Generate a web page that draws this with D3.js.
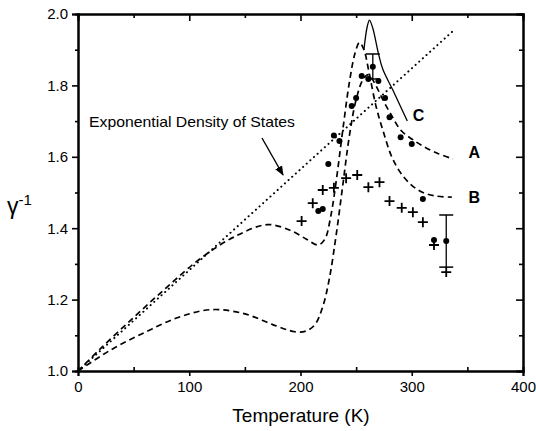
<!DOCTYPE html>
<html>
<head>
<meta charset="utf-8">
<script src="https://cdn.jsdelivr.net/npm/d3@7/dist/d3.min.js"></script>
<style>
  body { margin: 0; background: #fff; }
  text { font-family: "Liberation Sans", Arial, sans-serif; fill: #000; }
</style>
</head>
<body>
<div id="chart"></div>
<script>
// tick values
var xTicks = [0, 100, 200, 300, 400];
var yTicks = [1.0, 1.2, 1.4, 1.6, 1.8, 2.0];

// exponential density of states (straight dotted line)
var dosLine = [[0, 1.0], [338, 1.955]];

// model curves, [T, gamma-1]
var curveA = [[0,1],[30,1.06],[60,1.108],[90,1.15],[120,1.172],[150,1.16],[175,1.13],[195,1.11],
  [205,1.112],[213,1.13],[220,1.18],[226,1.26],[232,1.38],[238,1.52],[244,1.66],[250,1.76],
  [256,1.815],[261,1.83],[266,1.81],[274,1.76],[282,1.715],[290,1.675],[300,1.65],[310,1.63],
  [323,1.61],[337,1.594]];
var curveB = [[0,1],[20,1.062],[50,1.15],[80,1.235],[110,1.315],[140,1.375],[170,1.41],[190,1.395],
  [205,1.37],[216,1.353],[222,1.37],[227,1.43],[232,1.53],[238,1.675],[244,1.81],[249,1.89],
  [253,1.92],[257,1.9],[262,1.83],[268,1.74],[274,1.675],[282,1.6],[290,1.555],[300,1.52],
  [310,1.5],[322,1.49],[336,1.487]];
var curveC = [[257,1.9],[260,1.965],[262,1.983],[265,1.96],[270,1.89],[274,1.845],[283,1.787],[296,1.70]];

// measured points
var dots = [[216,1.448],[220,1.454],[225,1.58],[230,1.66],[235,1.644],[246,1.742],[250,1.765],
  [255,1.826],[261,1.818],[265,1.852],[270,1.812],[276,1.765],[280,1.711],[290,1.655],[300,1.636],
  [310,1.482],[320,1.367],[331,1.364]];
var crosses = [[201,1.42],[211,1.47],[220,1.507],[230,1.513],[241,1.54],[251,1.549],[261,1.515],
  [271,1.529],[280,1.476],[291,1.457],[301,1.445],[310,1.417],[320,1.353],[331,1.277]];
var errBars = [[265,1.818,1.888],[331,1.291,1.437]];

var curveLabels = [["C",301,1.70],["A",351,1.597],["B",351,1.471]];

var W = 536, H = 431;
var svg = d3.select('#chart').append('svg').attr('width', W).attr('height', H);

var x = d3.scaleLinear().domain([0, 400]).range([78, 523]);
var y = d3.scaleLinear().domain([1, 2]).range([371, 14]);

var line = d3.line().x(function(d){ return x(d[0]); }).y(function(d){ return y(d[1]); })
  .curve(d3.curveCatmullRom.alpha(0.5));

// axes
svg.append('g').attr('transform', 'translate(0,371)')
  .call(d3.axisBottom(x).tickValues(xTicks).tickSize(5).tickPadding(5).tickFormat(d3.format('d')));
svg.append('g').attr('transform', 'translate(78,0)')
  .call(d3.axisLeft(y).tickValues(yTicks).tickSize(6).tickPadding(4).tickFormat(d3.format('.1f')));
svg.append('g').attr('transform', 'translate(0,14)')
  .call(d3.axisTop(x).tickValues([100,200,300]).tickSize(-7).tickFormat(''));
svg.append('g').attr('transform', 'translate(523,0)')
  .call(d3.axisRight(y).tickValues([1.2,1.4,1.6,1.8]).tickSize(-7).tickFormat(''));

// minor ticks
svg.append('g').attr('transform', 'translate(0,371)')
  .call(d3.axisBottom(x).tickValues([50,150,250,350]).tickSize(-4).tickFormat(''));
svg.append('g').attr('transform', 'translate(0,14)')
  .call(d3.axisTop(x).tickValues([50,150,250,350]).tickSize(-4).tickFormat(''));
svg.append('g').attr('transform', 'translate(78,0)')
  .call(d3.axisLeft(y).tickValues([1.1,1.3,1.5,1.7,1.9]).tickSize(3).tickFormat(''));
svg.append('g').attr('transform', 'translate(523,0)')
  .call(d3.axisRight(y).tickValues([1.1,1.3,1.5,1.7,1.9]).tickSize(-4).tickFormat(''));

svg.selectAll('.domain').attr('stroke', '#000').attr('stroke-width', 2);
svg.selectAll('.tick line').attr('stroke', '#000').attr('stroke-width', 1.6);
svg.selectAll('.tick text').style('font-size', '15px').attr('fill', '#000');

// axis titles
svg.append('text').attr('x', 301).attr('y', 422).attr('text-anchor', 'middle')
  .style('font-size', '19px').text('Temperature (K)');
var yl = svg.append('text').attr('x', 7).attr('y', 214).style('font-size', '23px');
yl.append('tspan').text('γ');
yl.append('tspan').attr('dy', -9).style('font-size', '15px').text('-1');

// dotted DOS line
svg.append('path').datum(dosLine).attr('d', d3.line().x(function(d){ return x(d[0]); }).y(function(d){ return y(d[1]); }))
  .attr('fill', 'none').attr('stroke', '#000').attr('stroke-width', 2)
  .attr('stroke-dasharray', '0.1,4.8').attr('stroke-linecap', 'round');

// model curves
[curveA, curveB].forEach(function(c){
  svg.append('path').datum(c).attr('d', line).attr('fill', 'none').attr('stroke', '#000')
    .attr('stroke-width', 1.7).attr('stroke-dasharray', '6,4');
});
svg.append('path').datum(curveC).attr('d', line).attr('fill', 'none').attr('stroke', '#000')
  .attr('stroke-width', 1.3);

// error bars
var eb = svg.append('g').selectAll('g').data(errBars).enter().append('g');
eb.append('line').attr('x1', function(d){ return x(d[0]); }).attr('x2', function(d){ return x(d[0]); })
  .attr('y1', function(d){ return y(d[1]); }).attr('y2', function(d){ return y(d[2]); })
  .attr('stroke', '#000').attr('stroke-width', 1.3);
eb.append('line').attr('x1', function(d){ return x(d[0]) - 7; }).attr('x2', function(d){ return x(d[0]) + 7; })
  .attr('y1', function(d){ return y(d[2]); }).attr('y2', function(d){ return y(d[2]); })
  .attr('stroke', '#000').attr('stroke-width', 1.5);
eb.append('line').attr('x1', function(d){ return x(d[0]) - 7; }).attr('x2', function(d){ return x(d[0]) + 7; })
  .attr('y1', function(d){ return y(d[1]); }).attr('y2', function(d){ return y(d[1]); })
  .attr('stroke', '#000').attr('stroke-width', 1.5);

// points
svg.append('g').selectAll('circle').data(dots).enter().append('circle')
  .attr('cx', function(d){ return x(d[0]); }).attr('cy', function(d){ return y(d[1]); })
  .attr('r', 3).attr('fill', '#000');
svg.append('g').selectAll('path').data(crosses).enter().append('path')
  .attr('d', function(d){ var cx = x(d[0]), cy = y(d[1]);
    return 'M' + (cx - 5) + ',' + cy + 'H' + (cx + 5) + 'M' + cx + ',' + (cy - 5) + 'V' + (cy + 5); })
  .attr('stroke', '#000').attr('stroke-width', 1.8);

// curve labels
svg.append('g').selectAll('text').data(curveLabels).enter().append('text')
  .attr('x', function(d){ return x(d[1]); }).attr('y', function(d){ return y(d[2]); })
  .style('font-size', '16px').style('font-weight', 'bold').text(function(d){ return d[0]; });

// annotation
svg.append('text').attr('x', 89).attr('y', 127).attr('textLength', 206).attr('lengthAdjust', 'spacingAndGlyphs')
  .style('font-size', '14.5px').text('Exponential Density of States');
svg.append('defs').append('marker').attr('id', 'arr').attr('viewBox', '0 0 10 10')
  .attr('refX', 9).attr('refY', 5).attr('markerWidth', 7).attr('markerHeight', 7).attr('orient', 'auto')
  .append('path').attr('d', 'M0,1L10,5L0,9z').attr('fill', '#000');
svg.append('line').attr('x1', 262).attr('y1', 138).attr('x2', 283).attr('y2', 175)
  .attr('stroke', '#000').attr('stroke-width', 1.4).attr('marker-end', 'url(#arr)');
</script>
</body>
</html>
